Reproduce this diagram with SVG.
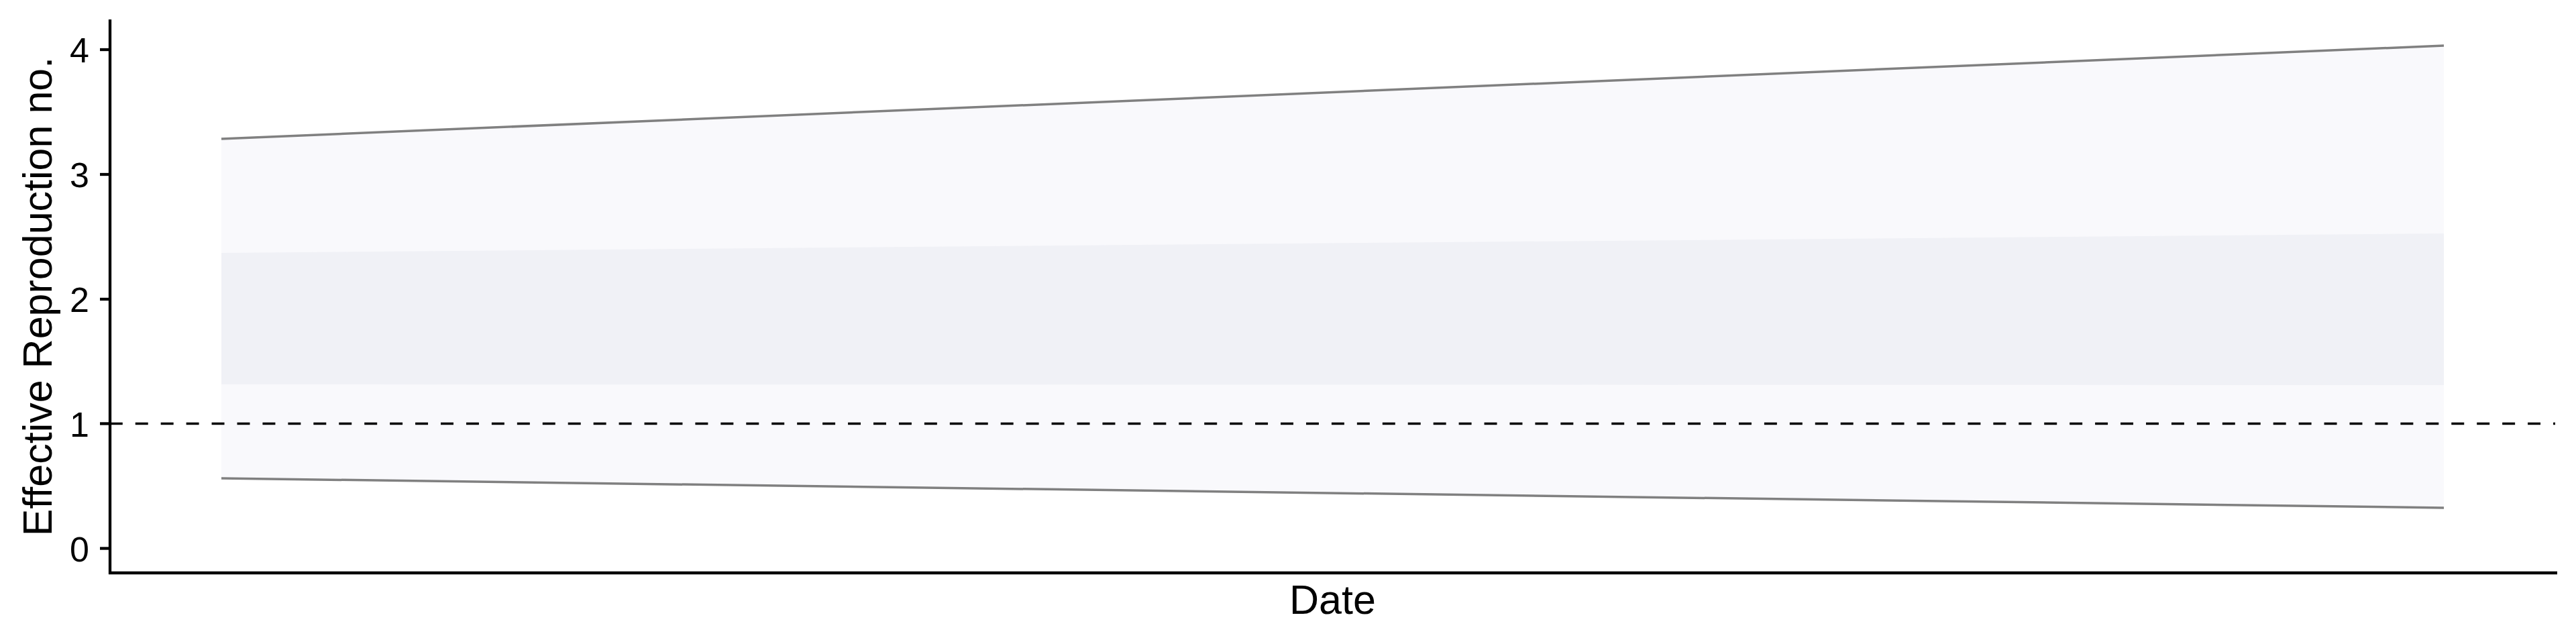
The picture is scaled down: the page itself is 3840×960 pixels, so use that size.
<svg xmlns="http://www.w3.org/2000/svg" width="3840" height="960" viewBox="0 0 3840 960">
<style>
  .axis { stroke: #000000; stroke-width: 4.3; fill: none; stroke-linecap: butt; }
  .tick { font-family: "Liberation Sans", Arial, Helvetica, sans-serif; font-size: 52px; fill: #000000; text-anchor: end; }
  .title { font-family: "Liberation Sans", Arial, Helvetica, sans-serif; font-size: 61px; fill: #000000; text-anchor: middle; }
  .bound { stroke: #808080; stroke-width: 3.5; fill: none; }
  .outer { fill: #F9F9FC; }
  .inner { fill: #F0F1F6; }
</style>
<rect x="0" y="0" width="3840" height="960" fill="#FFFFFF"/>
<g id="ribbons">
  <polygon class="outer" points="330,207 3643,68 3643,757 330,713"/>
  <polygon class="inner" points="330,377 3643,348 3643,574 330,573"/>
</g>
<g id="bounds">
  <line class="bound" x1="330" y1="207" x2="3643" y2="68"/>
  <line class="bound" x1="330" y1="713" x2="3643" y2="757"/>
</g>
<g id="threshold">
  <line x1="163.8" y1="631.5" x2="3809" y2="631.5" stroke="#000000" stroke-width="3.4" stroke-dasharray="18.97 18.97"/>
</g>
<g id="y-axis">
  <line class="axis" x1="164" y1="29" x2="164" y2="856"/>
  <line class="axis" x1="149" y1="74" x2="164" y2="74"/>
  <line class="axis" x1="149" y1="260" x2="164" y2="260"/>
  <line class="axis" x1="149" y1="446" x2="164" y2="446"/>
  <line class="axis" x1="149" y1="631.5" x2="164" y2="631.5"/>
  <line class="axis" x1="149" y1="817.5" x2="164" y2="817.5"/>
  <text class="tick" x="133" y="93">4</text>
  <text class="tick" x="133" y="279">3</text>
  <text class="tick" x="133" y="465">2</text>
  <text class="tick" x="133" y="650.5">1</text>
  <text class="tick" x="133" y="836.5">0</text>
  <text class="title" transform="translate(77,442) rotate(-90)">Effective Reproduction no.</text>
</g>
<g id="x-axis">
  <line class="axis" x1="162" y1="854" x2="3812" y2="854"/>
  <text class="title" x="1986.5" y="915">Date</text>
</g>
</svg>
